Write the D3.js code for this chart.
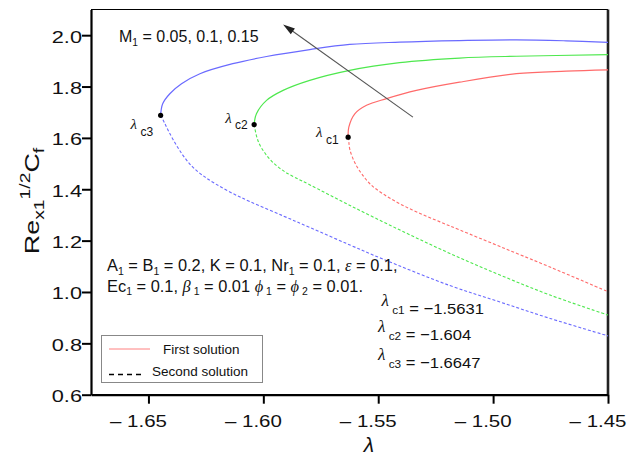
<!DOCTYPE html>
<html><head><meta charset="utf-8">
<script src="https://cdn.jsdelivr.net/npm/d3@7"></script>
<style>
html,body{margin:0;padding:0;background:#fff;}
svg{display:block;}
text{font-family:"Liberation Sans",Arial,Helvetica,sans-serif;fill:#111;white-space:pre;}
</style></head><body>
<svg id="chart" width="636" height="459"></svg>
<script>
// Skin friction Re^{1/2} C_f against the parameter λ, three values of M1
const lambdaTicks = [-1.65, -1.60, -1.55, -1.50, -1.45];
const cfTicks = [0.6, 0.8, 1.0, 1.2, 1.4, 1.6, 1.8, 2.0];
const mValues = [0.05, 0.1, 0.15];
const seriesColors = ["#ff6a6a", "#4ee84e", "#6a6aff"];
const criticalLambda = [-1.5631, -1.604, -1.6447];
const criticalCf = [1.603, 1.652, 1.688];
const criticalNames = ["c1", "c2", "c3"];
const criticalText = ["\u22121.5631", "\u22121.604", "\u22121.6647"];

// first (upper) solution branches, from the turning point to the right
const firstM005 = [[-1.5631,1.603],[-1.5628,1.642],[-1.5602,1.694],[-1.5551,1.727],[-1.5464,1.753],[-1.5334,1.785],[-1.5146,1.817],[-1.4899,1.850],[-1.4682,1.860],[-1.45,1.865]];
const firstM010 = [[-1.604,1.652],[-1.6030,1.694],[-1.5986,1.746],[-1.5914,1.785],[-1.5798,1.824],[-1.5624,1.863],[-1.5407,1.893],[-1.5146,1.911],[-1.4899,1.918],[-1.45,1.924]];
const firstM015 = [[-1.6447,1.688],[-1.6438,1.733],[-1.6407,1.772],[-1.6356,1.811],[-1.6276,1.850],[-1.6133,1.889],[-1.5986,1.917],[-1.5798,1.944],[-1.5624,1.964],[-1.5407,1.973],[-1.5146,1.979],[-1.4899,1.982],[-1.4682,1.978],[-1.45,1.972]];

// second (lower) solution branches
const secondM005 = [[-1.5631,1.603],[-1.5628,1.584],[-1.5623,1.553],[-1.5601,1.502],[-1.5571,1.459],[-1.5531,1.417],[-1.5479,1.382],[-1.5405,1.343],[-1.5318,1.306],[-1.5231,1.273],[-1.5144,1.241],[-1.4970,1.177],[-1.4752,1.097],[-1.45,1.001]];
const secondM010 = [[-1.604,1.652],[-1.6029,1.605],[-1.6015,1.572],[-1.5993,1.541],[-1.5967,1.512],[-1.5936,1.487],[-1.5901,1.465],[-1.5862,1.446],[-1.5797,1.417],[-1.5623,1.337],[-1.5405,1.241],[-1.5188,1.150],[-1.4970,1.066],[-1.4752,0.988],[-1.45,0.910]];
const secondM015 = [[-1.6447,1.688],[-1.6432,1.662],[-1.6414,1.629],[-1.6384,1.580],[-1.6348,1.530],[-1.6310,1.489],[-1.6267,1.456],[-1.6210,1.422],[-1.6136,1.385],[-1.6058,1.352],[-1.5913,1.296],[-1.5797,1.251],[-1.5623,1.183],[-1.5485,1.130],[-1.5188,1.025],[-1.4970,0.961],[-1.4752,0.897],[-1.45,0.829]];

const firstBranches = [firstM005, firstM010, firstM015];
const secondBranches = [secondM005, secondM010, secondM015];

// direction of increasing M1
const arrowFrom = [-1.5349, 1.681];
const arrowTo = [-1.5914, 2.042];

const svg = d3.select("#chart");
const serif = "'Liberation Serif','Times New Roman',serif";

const x = d3.scaleLinear().domain([-1.675, -1.45]).range([91, 608]);
const y = d3.scaleLinear().domain([0.6, 2.1]).range([394.7, 9.5]);

// plot frame
svg.append("line").attr("x1", x.range()[0]).attr("x2", x.range()[1]).attr("y1", y(2.1)).attr("y2", y(2.1))
  .attr("stroke", "#000").attr("stroke-width", 1.2);
svg.append("line").attr("x1", x(-1.45)).attr("x2", x(-1.45)).attr("y1", y(2.1)).attr("y2", y(0.6))
  .attr("stroke", "#222").attr("stroke-width", 2.6);

// helper: text made of runs with sub/superscripts and Greek letters
function richText(parent, px, py, parts, size) {
  const t = parent.append("text").attr("x", px).attr("y", py).attr("font-size", size);
  let cur = 0;
  parts.forEach(p => {
    const target = p.sub ? size * (p.subShift || 0.22) : p.sup ? -size * 0.42 : (p.shift || 0);
    const s = t.append("tspan").attr("dy", (target - cur).toFixed(2)).text(p.t);
    cur = target;
    if (p.sub || p.sup) s.attr("font-size", (size * (p.scale || 0.64)).toFixed(1));
    if (p.size) s.attr("font-size", p.size);
    if (p.greek) s.attr("font-family", serif).attr("font-style", "italic");
  });
  return t;
}

// curves
const line = d3.line().x(d => x(d[0])).y(d => y(d[1])).curve(d3.curveCatmullRom.alpha(0.5));
const curves = svg.append("g");
secondBranches.forEach((b, i) => {
  curves.append("path").attr("d", line(b)).attr("fill", "none")
    .attr("stroke", seriesColors[i]).attr("stroke-width", 1.1).attr("stroke-dasharray", "3,2");
});
firstBranches.forEach((b, i) => {
  curves.append("path").attr("d", line(b)).attr("fill", "none")
    .attr("stroke", seriesColors[i]).attr("stroke-width", 1.2);
});

// axes
const xAxis = d3.axisBottom(x).tickValues(lambdaTicks).tickSize(9).tickSizeOuter(0)
  .tickFormat(d => "\u2013 " + Math.abs(d).toFixed(2));
const gx = svg.append("g").attr("transform", `translate(0,${y(0.6)})`).call(xAxis);
gx.select(".domain").attr("stroke", "#000").attr("stroke-width", 2.2);
gx.selectAll(".tick line").attr("stroke", "#000").attr("stroke-width", 2);
const sx = 1.28;
gx.selectAll(".tick text").attr("fill", "#111").attr("font-size", 16)
  .attr("font-family", "'Liberation Sans',Arial,sans-serif")
  .attr("text-anchor", "end").attr("dy", null).attr("y", 32)
  .attr("x", 18 / sx).attr("transform", `scale(${sx},1)`);

const yAxis = d3.axisLeft(y).tickValues(cfTicks).tickSize(9).tickSizeOuter(0)
  .tickFormat(d3.format(".1f"));
const gy = svg.append("g").attr("transform", `translate(${x(-1.675)},0)`).call(yAxis);
gy.select(".domain").attr("stroke", "#000").attr("stroke-width", 2.2);
gy.selectAll(".tick line").attr("stroke", "#000").attr("stroke-width", 2);
gy.selectAll(".tick text").attr("fill", "#111").attr("font-size", 17)
  .attr("font-family", "'Liberation Sans',Arial,sans-serif")
  .attr("text-anchor", "end").attr("dy", null).attr("y", 7)
  .attr("x", -9 / sx).attr("transform", `scale(${sx},1)`);

// axis titles
svg.append("text").attr("x", 369).attr("y", 452).attr("text-anchor", "middle")
  .attr("font-family", serif).attr("font-style", "italic").attr("font-size", 21).text("\u03bb");
const yt = richText(svg, 0, 0, [
  {t: "Re"}, {t: "x1", sub: true, scale: 0.72, subShift: 0.25}, {t: "1/2", sup: true, scale: 0.72}, {t: "C"}, {t: "f", sub: true, scale: 0.72, subShift: 0.25}
], 21);
yt.attr("text-anchor", "middle").attr("transform", `translate(39,201) rotate(-90) scale(${sx},1)`);

// direction arrow
const ax1 = x(arrowFrom[0]), ay1 = y(arrowFrom[1]), ax2 = x(arrowTo[0]), ay2 = y(arrowTo[1]);
const ang = Math.atan2(ay2 - ay1, ax2 - ax1);
svg.append("line").attr("x1", ax1).attr("y1", ay1)
  .attr("x2", ax2 - 8 * Math.cos(ang)).attr("y2", ay2 - 8 * Math.sin(ang))
  .attr("stroke", "#555").attr("stroke-width", 1.1);
const hl = 12, hw = 3.6;
const bx = ax2 - hl * Math.cos(ang), by = ay2 - hl * Math.sin(ang);
svg.append("path").attr("d",
  `M${ax2},${ay2}L${bx + hw * Math.sin(ang)},${by - hw * Math.cos(ang)}L${bx - hw * Math.sin(ang)},${by + hw * Math.cos(ang)}Z`)
  .attr("fill", "#222");

// turning points and their labels
const labelOffsets = [[-32, 0], [-29, -2], [-30, 14]];
criticalLambda.forEach((l, i) => {
  svg.append("circle").attr("cx", x(l)).attr("cy", y(criticalCf[i])).attr("r", 2.6).attr("fill", "#000");
  const lx = x(l) + labelOffsets[i][0], ly = y(criticalCf[i]) + labelOffsets[i][1];
  richText(svg, lx, ly, [{t: "\u03bb", greek: true}, {t: " " + criticalNames[i], sub: true, scale: 0.8, subShift: 0.45}], 15);
});

// parameter annotations
richText(svg, 119, 42, [{t: "M"}, {t: "1", sub: true}, {t: " = " + mValues.join(", ")}], 16);
richText(svg, 107, 271, [
  {t: "A"}, {t: "1", sub: true}, {t: " = B"}, {t: "1", sub: true}, {t: " = 0.2, K = 0.1, Nr"}, {t: "1", sub: true},
  {t: " = 0.1, "}, {t: "\u03b5", greek: true}, {t: " = 0.1,"}
], 16.4);
richText(svg, 107, 291.5, [
  {t: "Ec"}, {t: "1", sub: true}, {t: " = 0.1, "}, {t: "\u03b2", greek: true}, {t: " 1", sub: true}, {t: " = 0.01 "},
  {t: "\u03d5", greek: true}, {t: " 1", sub: true}, {t: " = "}, {t: "\u03d5", greek: true}, {t: " 2", sub: true}, {t: " = 0.01."}
], 16.4);

// critical values list (slightly widened lettering)
const listX = [381.5, 378, 378], listY = [313.5, 340, 368];
criticalText.forEach((v, i) => {
  richText(svg, 0, 0, [
    {t: "\u03bb", greek: true, size: 16}, {t: " " + criticalNames[i], shift: 8, size: 11}, {t: " = " + v, shift: 8, size: 15.5}
  ], 15.5).attr("transform", `translate(${listX[i]},${listY[i] - 8}) scale(1.07,1)`);
});

// legend
const lg = svg.append("g");
lg.append("rect").attr("x", 101.5).attr("y", 335.5).attr("width", 161).attr("height", 47)
  .attr("fill", "#fff").attr("stroke", "#888").attr("stroke-width", 1);
lg.append("line").attr("x1", 109).attr("x2", 150).attr("y1", 349).attr("y2", 349)
  .attr("stroke", "#ff8080").attr("stroke-width", 1);
lg.append("text").attr("x", 163).attr("y", 354).attr("font-size", 13.5).text("First solution");
lg.append("line").attr("x1", 109).attr("x2", 144).attr("y1", 374.5).attr("y2", 374.5)
  .attr("stroke", "#000").attr("stroke-width", 1.3).attr("stroke-dasharray", "5,4");
lg.append("text").attr("x", 152).attr("y", 376).attr("font-size", 13.5).text("Second solution");
</script>
</body></html>
